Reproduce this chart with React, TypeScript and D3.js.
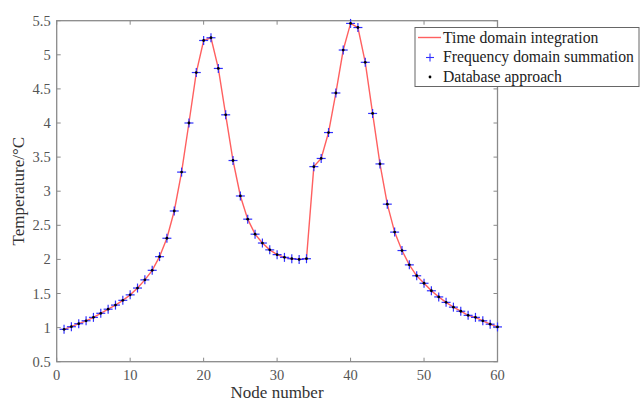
import React from "react";
import * as d3 from "d3";

const nodes: number[] = Array.from({ length: 60 }, (_, i) => i + 1);
const temperature: number[] = [
  0.975, 1.013, 1.057, 1.1, 1.15, 1.21, 1.27, 1.33, 1.4, 1.48,
  1.58, 1.7, 1.84, 2.04, 2.31, 2.71, 3.28, 4.0, 4.74, 5.21,
  5.25, 4.8, 4.12, 3.45, 2.93, 2.59, 2.37, 2.24, 2.14, 2.07,
  2.03, 2.01, 2.0, 2.01, 3.36, 3.48, 3.86, 4.44, 5.07, 5.46,
  5.4, 4.89, 4.14, 3.4, 2.81, 2.4, 2.13, 1.92, 1.76, 1.65,
  1.54, 1.45, 1.37, 1.3, 1.24, 1.18, 1.15, 1.1, 1.05, 1.01,
];
const xTicks: number[] = [0, 10, 20, 30, 40, 50, 60];
const yTicks: number[] = [0.5, 1, 1.5, 2, 2.5, 3, 3.5, 4, 4.5, 5, 5.5];
const legendLabels: string[] = [
  "Time domain integration",
  "Frequency domain summation",
  "Database approach",
];

export default function App() {
  const W = 642, H = 403;
  const left = 56.7, right = 497.5, top = 20.7, bottom = 361.7;
  const x = d3.scaleLinear().domain([0, 60]).range([left, right]);
  const y = d3.scaleLinear().domain([0.5, 5.5]).range([bottom, top]);
  const line = d3.line<number>().x((_, i) => x(nodes[i])).y((d) => y(d));
  const axisColor = "#8a8a8a";
  const textColor = "#555";
  const font = "'Liberation Serif', 'Times New Roman', serif";
  const tl = 4;
  return (
    <svg width={W} height={H} style={{ position: "absolute", left: 0, top: 0, background: "#fff" }}>
      <rect x={0} y={0} width={W} height={H} fill="#fff" />
      <rect x={left} y={top} width={right - left} height={bottom - top} fill="none" stroke={axisColor} strokeWidth={1.3} />
      {xTicks.map((t) => (
        <g key={"x" + t}>
          <line x1={x(t)} x2={x(t)} y1={bottom} y2={bottom - tl} stroke={axisColor} />
          <line x1={x(t)} x2={x(t)} y1={top} y2={top + tl} stroke={axisColor} />
          <text x={x(t)} y={bottom + 18.5} textAnchor="middle" fontFamily={font} fontSize={14.5} fill={textColor}>{t}</text>
        </g>
      ))}
      {yTicks.map((t) => (
        <g key={"y" + t}>
          <line x1={left} x2={left + tl} y1={y(t)} y2={y(t)} stroke={axisColor} />
          <line x1={right} x2={right - tl} y1={y(t)} y2={y(t)} stroke={axisColor} />
          <text x={left - 6} y={y(t) + 5} textAnchor="end" fontFamily={font} fontSize={14.5} fill={textColor}>{t}</text>
        </g>
      ))}
      <text x={(left + right) / 2} y={398} textAnchor="middle" fontFamily={font} fontSize={17} fill="#333">Node number</text>
      <text transform={`translate(24, ${(top + bottom) / 2}) rotate(-90)`} textAnchor="middle" fontFamily={font} fontSize={17} fill="#333">Temperature/°C</text>
      <path d={line(temperature) || ""} fill="none" stroke="#ff6060" strokeWidth={1.4} />
      {temperature.map((v, i) => (
        <g key={"p" + i} stroke="#3030ff" strokeWidth={1.2}>
          <line x1={x(nodes[i]) - 4.5} x2={x(nodes[i]) + 4.5} y1={y(v)} y2={y(v)} />
          <line x1={x(nodes[i])} x2={x(nodes[i])} y1={y(v) - 4.5} y2={y(v) + 4.5} />
        </g>
      ))}
      {temperature.map((v, i) => (
        <circle key={"d" + i} cx={x(nodes[i])} cy={y(v)} r={1.4} fill="#000" />
      ))}
      <g>
        <rect x={415} y={27.5} width={224} height={59} fill="#fff" stroke="#666" strokeWidth={1} />
        <line x1={418} x2={441} y1={37.5} y2={37.5} stroke="#ff6060" strokeWidth={1.4} />
        <g stroke="#3030ff" strokeWidth={1.1}>
          <line x1={426} x2={434} y1={57.5} y2={57.5} />
          <line x1={430} x2={430} y1={53.5} y2={61.5} />
        </g>
        <circle cx={430} cy={77} r={1.4} fill="#000" />
        {legendLabels.map((s, i) => (
          <text key={s} x={443} y={42.5 + i * 19.5} fontFamily={font} fontSize={15.7} fill="#222">{s}</text>
        ))}
      </g>
    </svg>
  );
}
